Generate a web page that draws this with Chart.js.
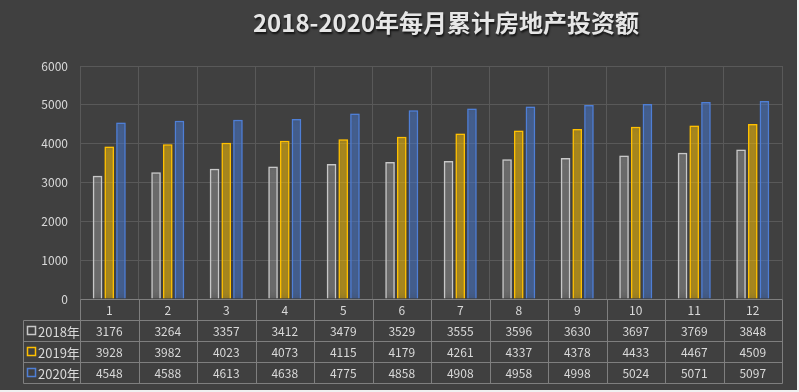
<!DOCTYPE html>
<html>
<head>
<meta charset="utf-8">
<script src="https://cdn.jsdelivr.net/npm/chart.js@4"></script>
<style>
    body { margin: 0; background: #f0f0f0; }
    .chartBox { width: 797px; height: 390px; background: #404040; }
</style>
</head>
<body>
<div class="chartBox"><canvas id="investGraphic" width="797" height="390"></canvas></div>
<script>
/* Chart data */
let months = ['1', '2', '3', '4', '5', '6', '7', '8', '9', '10', '11', '12'];
let seriesNames = ['2018年', '2019年', '2020年'];
let values2018 = [3176, 3264, 3357, 3412, 3479, 3529, 3555, 3596, 3630, 3697, 3769, 3848];
let values2019 = [3928, 3982, 4023, 4073, 4115, 4179, 4261, 4337, 4378, 4433, 4467, 4509];
let values2020 = [4548, 4588, 4613, 4638, 4775, 4858, 4908, 4958, 4998, 5024, 5071, 5097];
let yTicks = [0, 1000, 2000, 3000, 4000, 5000, 6000];
let titleText = '2018-2020年每月累计房地产投资额';

let lineColors = ['#c8c8c8', '#ffc000', '#4f7fd6'];
let fillColors = ['rgba(191,191,191,0.14)', 'rgba(255,192,0,0.34)', 'rgba(68,114,196,0.34)'];
let glowColors = ['rgba(200,200,200,0.9)', 'rgba(255,200,0,0.9)', 'rgba(80,130,220,0.95)'];
let fontName = '"Noto Sans CJK SC", "Noto Sans", sans-serif';

Chart.defaults.font.family = fontName;

/* Glow round the bars */
let glowPlugin = {
    id: 'glow',
    beforeDatasetDraw: function (chart, args) {
        let ctx = chart.ctx;
        ctx.save();
        ctx.shadowColor = glowColors[args.index];
        ctx.shadowBlur = 10;
    },
    afterDatasetDraw: function (chart) {
        chart.ctx.restore();
    }
};

/* Title and data table */
let tablePlugin = {
    id: 'dataTable',
    afterDraw: function (chart) {
        let ctx = chart.ctx;
        let area = chart.chartArea;
        let xScale = chart.scales.x;
        let allValues = [values2018, values2019, values2020];

        ctx.save();

        // title
        ctx.font = 'bold 24px ' + fontName;
        ctx.textAlign = 'center';
        ctx.textBaseline = 'middle';
        ctx.shadowColor = 'rgba(0,0,0,0.7)';
        ctx.shadowOffsetX = 1;
        ctx.shadowOffsetY = 2;
        ctx.shadowBlur = 2;
        ctx.fillStyle = '#e6e6e6';
        ctx.fillText(titleText, 446, 23);
        ctx.shadowColor = 'transparent';

        let top = Math.round(area.bottom) + 0.5;
        let rows = [top, top + 21, top + 42, top + 63, top + 84];
        let left = 23.5;
        let bounds = [];
        for (let i = 0; i <= months.length; i++) {
            bounds.push(Math.round(area.left + (area.right - area.left) * i / months.length) + 0.5);
        }

        // grid lines of the table
        ctx.strokeStyle = '#7f7f7f';
        ctx.lineWidth = 1;
        ctx.beginPath();
        ctx.moveTo(bounds[0], rows[0]);
        ctx.lineTo(bounds[12], rows[0]);
        for (let r = 1; r < rows.length; r++) {
            ctx.moveTo(left, rows[r]);
            ctx.lineTo(bounds[12], rows[r]);
        }
        for (let i = 0; i < bounds.length; i++) {
            ctx.moveTo(bounds[i], rows[0]);
            ctx.lineTo(bounds[i], rows[4]);
        }
        ctx.moveTo(left, rows[1]);
        ctx.lineTo(left, rows[4]);
        ctx.stroke();

        // texts
        ctx.font = '12px ' + fontName;
        ctx.fillStyle = '#d9d9d9';
        ctx.textAlign = 'center';
        for (let i = 0; i < months.length; i++) {
            let cx = xScale.getPixelForValue(i);
            ctx.fillText(months[i], cx, (rows[0] + rows[1]) / 2);
            for (let s = 0; s < allValues.length; s++) {
                ctx.fillText(String(allValues[s][i]), cx, (rows[s + 1] + rows[s + 2]) / 2);
            }
        }

        // legend keys
        ctx.textAlign = 'left';
        ctx.font = '13px ' + fontName;
        for (let s = 0; s < seriesNames.length; s++) {
            let cy = (rows[s + 1] + rows[s + 2]) / 2;
            ctx.strokeStyle = lineColors[s];
            ctx.lineWidth = 1.5;
            ctx.strokeRect(27.5, Math.round(cy) - 4.5, 8, 8);
            ctx.fillStyle = '#d9d9d9';
            ctx.fillText(seriesNames[s], 38, cy + 1);
        }

        ctx.restore();
    }
};

let ctx = document.getElementById('investGraphic').getContext('2d');

let graphic = new Chart(ctx, {
    type: 'bar',
    data: {
        labels: months,
        datasets: [
            {
                label: seriesNames[0],
                data: values2018,
                backgroundColor: fillColors[0],
                borderColor: lineColors[0],
                borderWidth: 1.5
            },
            {
                label: seriesNames[1],
                data: values2019,
                backgroundColor: fillColors[1],
                borderColor: lineColors[1],
                borderWidth: 1.5
            },
            {
                label: seriesNames[2],
                data: values2020,
                backgroundColor: fillColors[2],
                borderColor: lineColors[2],
                borderWidth: 1.5
            }
        ]
    },
    options: {
        responsive: false,
        animation: false,
        categoryPercentage: 0.6,
        barPercentage: 0.82,
        layout: {
            padding: { left: 0, right: 15, top: 66, bottom: 91 }
        },
        plugins: {
            legend: { display: false },
            title: { display: false },
            tooltip: { enabled: false }
        },
        scales: {
            x: {
                grid: { color: '#595959', drawTicks: false, offset: true },
                border: { display: false },
                ticks: { display: false },
                afterFit: function (scale) { scale.height = 0; }
            },
            y: {
                min: 0,
                max: 6000,
                afterBuildTicks: function (scale) {
                    scale.ticks = yTicks.map(function (v) { return { value: v }; });
                },
                grid: { color: '#595959', drawTicks: false },
                border: { color: '#595959' },
                ticks: {
                    color: '#d9d9d9',
                    padding: 12,
                    font: { size: 12 },
                    callback: function (value) { return String(value); }
                },
                afterFit: function (scale) { scale.width = 80; }
            }
        }
    },
    plugins: [glowPlugin, tablePlugin]
});
</script>
</body>
</html>
